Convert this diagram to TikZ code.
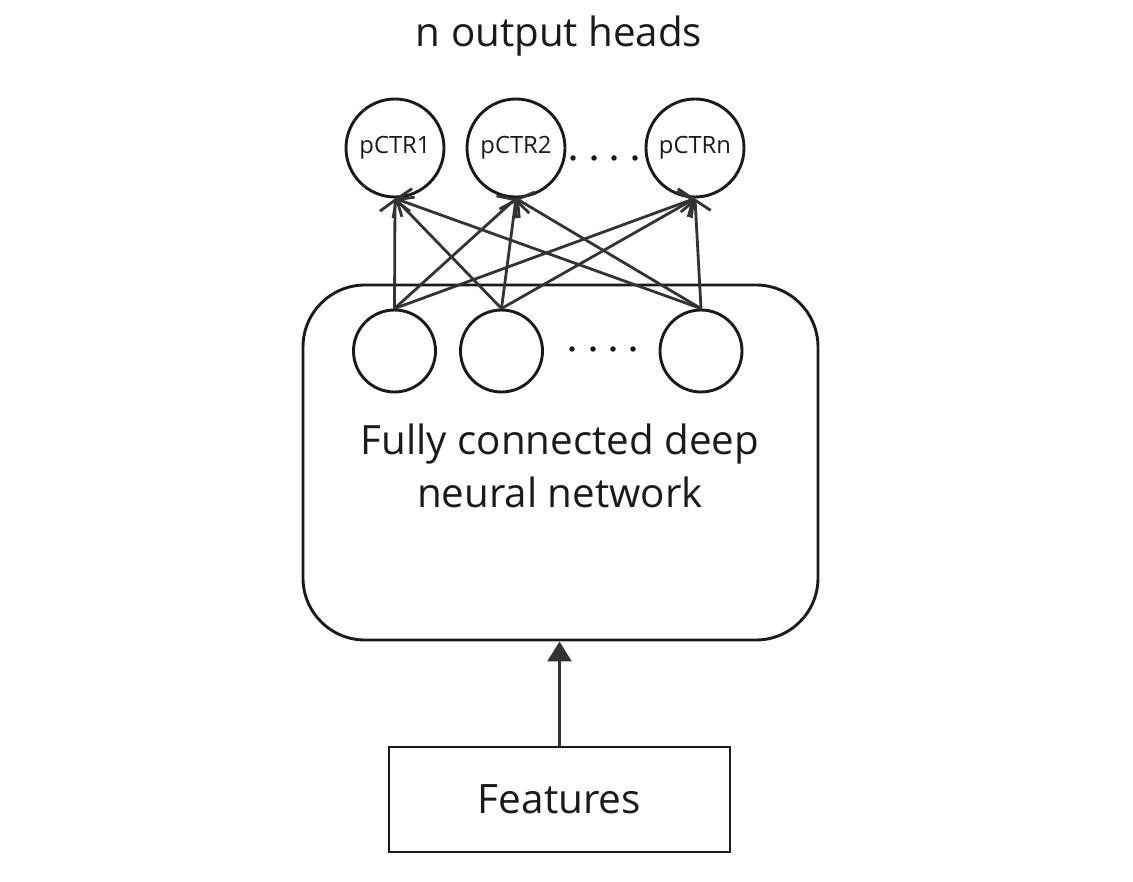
\documentclass[tikz,border=0pt]{standalone}
\usepackage{fontspec}
\setmainfont{Open Sans}
\usetikzlibrary{arrows.meta}
\definecolor{ink}{HTML}{1A1A1A}
\definecolor{wire}{HTML}{333333}
\begin{document}
\begin{tikzpicture}[x=1pt,y=-1pt,
  head/.style={circle,draw=ink,line width=2.9pt,minimum size=98pt,inner sep=0pt,font=\fontsize{23.8}{28}\selectfont,text=ink},
  unit/.style={circle,draw=ink,line width=2.9pt,minimum size=82pt,inner sep=0pt},
  dot/.style={circle,fill=ink,inner sep=0pt,minimum size=5.5pt},
  conn/.style={draw=wire,line width=2.8pt,-{Straight Barb[length=11pt,width=30pt,line width=2.8pt]}},
  big/.style={font=\fontsize{40.3}{53}\selectfont,text=ink}]
\useasboundingbox (0,0) rectangle (1133,882);
\node[big] (title) at (559,36) {n output heads};
\node[head] (h1) at (395,148) {pCTR1};
\node[head] (h2) at (516,148) {pCTR2};
\node[head] (hn) at (695,148) {pCTRn};
\node[dot] (td1) at (573,158) {};
\node[dot] (td2) at (594,158) {};
\node[dot] (td3) at (614,158) {};
\node[dot] (td4) at (635,158) {};
\node[draw=ink,line width=2.9pt,rounded corners=62pt,minimum width=515pt,minimum height=355pt,inner sep=0pt] (net) at (560.5,462.5) {};
\node[unit] (b1) at (394.5,351) {};
\node[unit] (b2) at (501.5,351) {};
\node[unit] (b3) at (701,351) {};
\node[dot] (bd1) at (572,349) {};
\node[dot] (bd2) at (593,349) {};
\node[dot] (bd3) at (613,349) {};
\node[dot] (bd4) at (633,349) {};
\node[big,align=center] (lbl) at (560,466) {Fully connected deep\\neural network};
\node[draw=ink,line width=2.9pt,minimum width=341pt,minimum height=105pt,inner sep=0pt,font=\fontsize{40.5}{48}\selectfont,text=ink] (feat) at (559.5,799.5) {Features};
\foreach \b in {b1,b2,b3}{
  \foreach \h in {h1,h2,hn}{
    \draw[conn] (\b.north) -- (\h.south);
  }
}
\draw[draw=wire,line width=2.8pt,-{Triangle[length=20pt,width=24pt]}] (feat.north) -- (feat.north |- net.south);
\end{tikzpicture}
\end{document}
